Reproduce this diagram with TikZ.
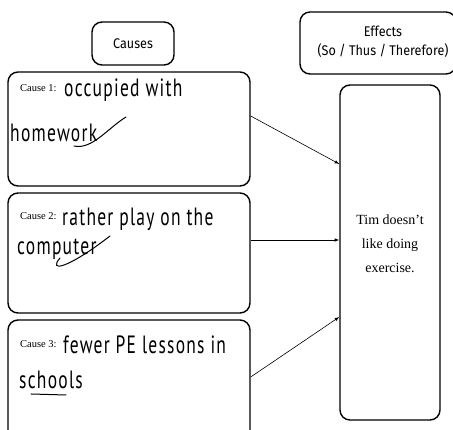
\documentclass[tikz,border=0pt]{standalone}
\usepackage{fontspec}
\setmainfont{Liberation Serif}
\newfontfamily\handfont[FakeStretch=0.7,LetterSpace=5]{PT Sans}
\newfontfamily\labelfont[FakeStretch=0.9]{Fira Sans}
\usetikzlibrary{arrows,positioning}
\tikzset{
	frame/.style={draw, line width=1.4pt, rounded corners=10pt, inner sep=0pt},
	headtxt/.style={font=\labelfont\fontsize{14}{19}\selectfont, align=center},
	tagtxt/.style={font=\fontsize{10.5}{12}\selectfont, anchor=base west, inner sep=0pt},
	handtxt/.style={font=\handfont\fontsize{25}{28}\selectfont, anchor=base west, inner sep=0pt},
	pen/.style={line width=1pt, line cap=round},
	link/.style={-latex, line width=0.6pt},
}
\begin{document}
\begin{tikzpicture}[x=1pt,y=-1pt]
\clip (0,0) rectangle (453,430);
\fill[white] (0,0) rectangle (453,430);
% headings
\node[frame, minimum width=82pt, minimum height=43pt] (causes) at (133,43.5) {};
\node[headtxt] (causestxt) at (causes) {Causes};
\node[frame, minimum width=156pt, minimum height=62pt] (effects) at (378,43) {};
\node[headtxt] (effectstxt) at (383,42) {Effects\\(So / Thus / Therefore)};
% cause boxes
\node[frame, minimum width=242pt, minimum height=114pt] (cause1) at (129,129) {};
\node[frame, minimum width=242pt, minimum height=120pt] (cause2) at (129,253) {};
\node[frame, minimum width=242pt, minimum height=120pt] (cause3) at (129,380) {};
% effect box
\node[frame, minimum width=100pt, minimum height=335pt] (effect) at (390,252.5) {};
\node[font=\fontsize{14}{24}\selectfont, align=center] (effecttxt) at (390,244) {Tim doesn't\\like doing\\exercise.};
% written answers
\node[tagtxt] (tag1) at (20,92) {Cause 1:};
\node[handtxt] (ans1a) at (64,97) {occupied with};
\node[handtxt] (ans1b) at (10,142) {homework};
\draw[pen] (74,146) .. controls (92,150) and (108,128) .. (126,117);
\node[tagtxt] (tag2) at (20,220) {Cause 2:};
\node[handtxt] (ans2a) at (62,226) {rather play on the};
\node[handtxt] (ans2b) at (17,255) {computer};
\draw[pen] (60,258) .. controls (48,272) and (66,270) .. (110,236);
\node[tagtxt] (tag3) at (20,348) {Cause 3:};
\node[handtxt] (ans3a) at (63,354) {fewer PE lessons in};
\node[handtxt] (ans3b) at (19,389) {schools};
\draw[pen] (31,394) -- (66,395);
% links
\draw[link] ([yshift=13pt]cause1.east) -- ([yshift=88.5pt]effect.west);
\draw[link] ([yshift=13pt]cause2.east) -- ([yshift=12.5pt]effect.west);
\draw[link] ([yshift=3pt]cause3.east) -- ([yshift=-64.5pt]effect.west);
\end{tikzpicture}
\end{document}
